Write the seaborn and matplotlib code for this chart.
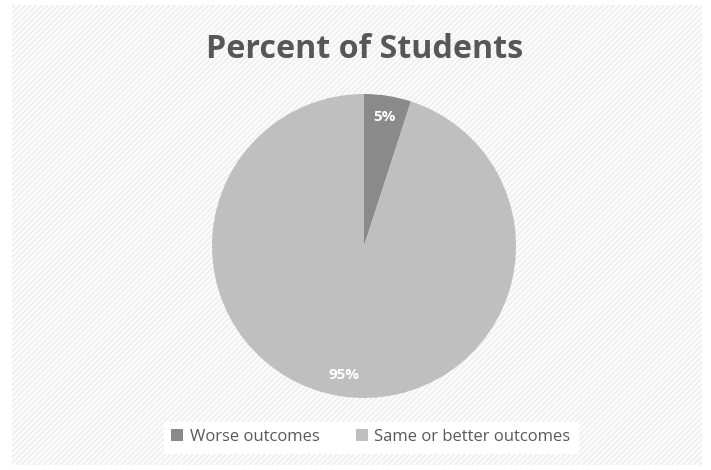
import matplotlib.pyplot as plt
import seaborn as sns
from matplotlib.patches import Rectangle

# --- DATA ---
CATEGORIES = ["Worse outcomes", "Same or better outcomes"]
PERCENTS = [5, 95]
COLORS = ["#8a8a8a", "#bfbfbf"]

sns.set_theme(style="white")
plt.rcParams['font.family'] = ['Open Sans', 'DejaVu Sans']
plt.rcParams['hatch.color'] = 'white'
plt.rcParams['hatch.linewidth'] = 1.2

fig = plt.figure(figsize=(7.11, 4.70), dpi=100)
fig.patch.set_facecolor("white")

# textured chart area
bg = Rectangle((12 / 711, 5 / 470), 690 / 711, 460 / 470, transform=fig.transFigure,
               facecolor="#f0f0f0", edgecolor="white", hatch="//////", linewidth=0, zorder=-1)
fig.patches.append(bg)

ax = fig.add_axes([(364 - 152) / 711, (470 - 246 - 152) / 470, 304 / 711, 304 / 470])
ax.set_facecolor("none")
ax.set_zorder(2)

wedges, texts, autotexts = ax.pie(
    PERCENTS, colors=COLORS, startangle=90, counterclock=False,
    autopct=lambda p: f"{p:.0f}%", pctdistance=0.86,
    wedgeprops=dict(linewidth=0), textprops=dict(color="white", fontsize=11, fontweight="bold"))
ax.set_xlim(-1, 1)
ax.set_ylim(-1, 1)
ax.set_aspect("equal")

fig.text(365 / 711, 1 - 49 / 470, "Percent of Students", ha="center", va="center",
         fontsize=23.2, fontweight="bold", color="#575757")

# legend box
leg = fig.legend(wedges, CATEGORIES, loc="center", bbox_to_anchor=(371 / 711, 1 - 437 / 470),
                 ncol=2, frameon=True, fancybox=False, handlelength=0.7, handleheight=0.7,
                 columnspacing=2.2, handletextpad=0.4, fontsize=12, borderpad=0.45)
leg.get_frame().set_facecolor("white")
leg.get_frame().set_edgecolor("white")
leg.get_frame().set_alpha(1)
leg.set_zorder(3)
for t in leg.get_texts():
    t.set_color("#595959")

fig.savefig("out.png", dpi=100)
